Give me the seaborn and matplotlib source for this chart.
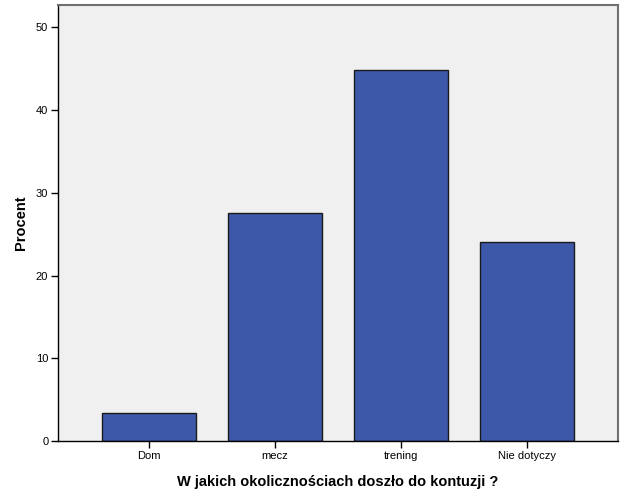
import matplotlib
matplotlib.use("Agg")
import matplotlib.pyplot as plt
import seaborn as sns
import pandas as pd

categories = ["Dom", "mecz", "trening", "Nie dotyczy"]
percent = [3.4, 27.6, 44.8, 24.1]
yticks = [0, 10, 20, 30, 40, 50]

sns.set_style("white")
plt.rcParams['font.family'] = ['Liberation Sans', 'DejaVu Sans']
plt.rcParams['text.color'] = 'black'
plt.rcParams['axes.labelcolor'] = 'black'
plt.rcParams['xtick.color'] = 'black'
plt.rcParams['ytick.color'] = 'black'

df = pd.DataFrame({"cat": categories, "pct": percent})

fig = plt.figure(figsize=(6.26, 5.01), dpi=100)
ax = fig.add_axes([58/626, 60/501, 560/626, 436/501])
ax.set_facecolor("#f0f0f0")

sns.barplot(data=df, x="cat", y="pct", order=categories, color="#3d58a9",
            width=0.75, edgecolor="#1a1a1a", linewidth=1.0, saturation=1, ax=ax)

ax.set_xlim(-0.72, 3.72)
ax.set_ylim(0, 52.7)
ax.set_yticks(yticks)
ax.tick_params(axis="both", direction="out", length=5, width=1, color="black",
               labelcolor="black", labelsize=8, pad=2, left=True, bottom=True)
for s in ["left", "bottom"]:
    ax.spines[s].set_color("black")
    ax.spines[s].set_linewidth(1)
for s in ["top", "right"]:
    ax.spines[s].set_color("#707070")
    ax.spines[s].set_linewidth(1.5)

ax.set_xlabel("W jakich okolicznościach doszło do kontuzji ?", fontsize=10.5,
              fontweight="bold", labelpad=10, color="black")
ax.set_ylabel("Procent", fontsize=10.5, fontweight="bold", labelpad=6, color="black")

fig.savefig("out.png", dpi=100)
